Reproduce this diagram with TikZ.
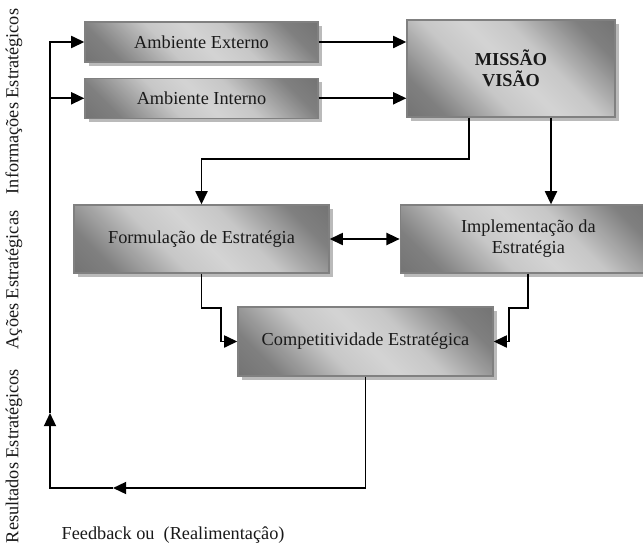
\documentclass[tikz,border=0pt]{standalone}
\usepackage{fontspec}
\setmainfont{Liberation Serif}
\usepackage{tikz}
\usetikzlibrary{calc}
\usetikzlibrary{positioning}
\usetikzlibrary{arrows.meta}
\usetikzlibrary{shadows}

\pgfdeclareverticalshading{degrade}{100bp}{color(0bp)=(black!62); color(24bp)=(black!50); color(40bp)=(black!22); color(50bp)=(black!17); color(60bp)=(black!22); color(76bp)=(black!50); color(100bp)=(black!62)}

\begin{document}
\begin{tikzpicture}[x=0.025cm,y=-0.025cm,line width=1.4pt,>={Triangle[length=0.33cm,width=0.3cm]},
		font=\fontsize{13}{15}\selectfont,text=black!90,
		bloco/.style={draw=black!50,line width=0.9pt,rectangle,align=center,
			shading=degrade,shading angle=-45,
			drop shadow={shadow xshift=0.09cm,shadow yshift=-0.09cm,fill=black!27,opacity=1}}]
		\clip (0,0) rectangle (643,547);

		\node [bloco,minimum width=5.825cm,minimum height=1cm] (externo) at (201.5,42) {Ambiente Externo};
		\node [bloco,below=0.375cm of externo,minimum width=5.825cm,minimum height=1cm] (interno) {Ambiente Interno};
		\node [bloco,minimum width=5.2cm,minimum height=2.425cm] (missao) at (511,68.5) {\textbf{MISSÃO}\\\textbf{VISÃO}};
		\node [bloco,minimum width=6.375cm,minimum height=1.7cm] (formulacao) at (201.5,239) {Formulação de Estratégia};
		\node [bloco,right=1.75cm of formulacao,minimum width=6.4cm,minimum height=1.7cm] (implementacao) {Implementação da\\Estratégia};
		\node [bloco,minimum width=6.375cm,minimum height=1.725cm] (competitividade) at (365.5,341.5) {Competitividade Estratégica};

		\coordinate (dobra) at (0,159);
		\coordinate (mvA) at ($(missao.south)+(-42,0)$);
		\coordinate (mvB) at ($(missao.south)+(40,0)$);
		\coordinate (fbdir) at (365.5,488);
		\coordinate (fbesq) at (50,488);
		\coordinate (fbseta) at (113,488);
		\coordinate (sobe) at (50,413);

		\draw [->] (externo.east) -- (externo.east -| missao.west);
		\draw [->] (interno.east) -- (interno.east -| missao.west);
		\draw [->] (mvA) -- (mvA |- dobra) -- (formulacao.north |- dobra) -- (formulacao.north);
		\draw [->] (mvB) -- (mvB |- implementacao.north);
		\draw [<->] (formulacao) -- (implementacao);
		\draw [->] (formulacao.south) -- ++(0,34) -| ($(competitividade.west)+(-16,0)$) -- (competitividade.west);
		\draw [->] (implementacao.south) -- ++(0,34) -| ($(competitividade.east)+(15,0)$) -- (competitividade.east);
		\draw [->] (competitividade.south) -- (fbdir) -- (fbseta);
		\draw [->] (fbseta) -- (fbesq) -- (sobe);
		\draw [->] (sobe) -- (fbesq |- externo.west) -- (externo.west);
		\draw [->] (fbesq |- interno.west) -- (interno.west);

		\node [rotate=90] (resultados) at (14,456) {Resultados Estratégicos};
		\node [rotate=90] (acoes) at (14,280) {Ações Estratégicas};
		\node [rotate=90] (informacoes) at (14,101.5) {Informações Estratégicos};
		\node [anchor=west] (feedback) at (56,535) {Feedback ou~ (Realimentaçâo)};
	\end{tikzpicture}
\end{document}
